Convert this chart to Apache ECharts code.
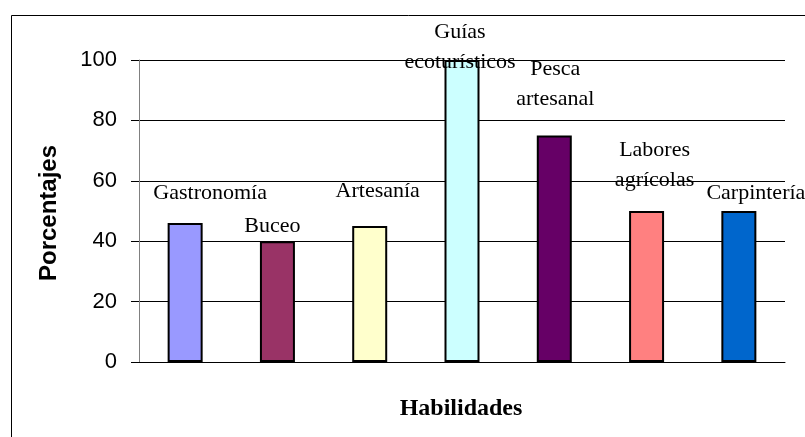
<!DOCTYPE html>
<html>
<head>
<meta charset="utf-8">
<title>Habilidades</title>
<script src="https://cdn.jsdelivr.net/npm/echarts@6/dist/echarts.min.js"></script>
<style>
  html, body { margin: 0; padding: 0; background: #fff; }
  #chart { width: 805px; height: 437px; }
</style>
</head>
<body>
<div id="chart"></div>
<script>
// data
const categories = ["Gastronomía", "Buceo", "Artesanía", "Guías ecoturísticos", "Pesca artesanal", "Labores agrícolas", "Carpintería"];
const porcentajes = [46, 40, 45, 100, 75, 50, 50];
const yTicks = [0, 20, 40, 60, 80, 100];

// excel-like palette, one colour per bar
const barColors = ["#9999FF", "#993366", "#FFFFCC", "#CCFFFF", "#660066", "#FF8080", "#0066CC"];
// hand-moved data labels in the original
const labelShift = [[25, -15], [-5, 0], [8, -20], [-2, 17], [1, -21], [8, -16], [17, -3]];

const chart = echarts.init(document.getElementById("chart"));

chart.setOption({
  animation: false,
  backgroundColor: "#fff",
  grid: { left: 139, top: 60, width: 646, height: 302, containLabel: false },
  xAxis: {
    type: "category",
    data: categories,
    axisLine: { lineStyle: { color: "#000", width: 1 } },
    axisTick: { show: false },
    axisLabel: { show: false },
    splitLine: { show: false },
  },
  yAxis: {
    type: "value",
    min: yTicks[0],
    max: yTicks[yTicks.length - 1],
    interval: 20,
    axisLine: { show: true, lineStyle: { color: "#808080", width: 1 } },
    axisTick: { show: true, length: 8, lineStyle: { color: "#000" } },
    axisLabel: {
      margin: 22,
      color: "#000",
      fontFamily: "Liberation Sans",
      fontSize: 22,
    },
    splitLine: { lineStyle: { color: "#000", width: 1 } },
  },
  series: [
    {
      type: "bar",
      barWidth: 35,
      data: porcentajes.map((v, i) => ({
        value: v,
        itemStyle: { color: barColors[i] },
        label: { offset: labelShift[i] },
      })),
      itemStyle: { borderColor: "#000", borderWidth: 2 },
      label: {
        show: true,
        position: "top",
        distance: 0,
        color: "#000",
        fontFamily: "Liberation Serif",
        fontSize: 22,
        lineHeight: 30,
        formatter: (p) => p.name.replace(" ", "\n"),
      },
    },
  ],
  graphic: [
    {
      type: "rect",
      left: 9,
      top: 13,
      shape: { width: 900, height: 500 },
      style: { fill: "none", stroke: "#000", lineWidth: 1 },
      silent: true,
      z: -1,
    },
    {
      type: "text",
      x: 49,
      y: 213,
      rotation: Math.PI / 2,
      style: {
        text: "Porcentajes",
        fontFamily: "Liberation Sans",
        fontWeight: "bold",
        fontSize: 24,
        fill: "#000",
        align: "center",
        verticalAlign: "middle",
      },
    },
    {
      type: "text",
      x: 461,
      y: 409,
      style: {
        text: "Habilidades",
        fontFamily: "Liberation Serif",
        fontWeight: "bold",
        fontSize: 24,
        fill: "#000",
        align: "center",
        verticalAlign: "middle",
      },
    },
  ],
});
</script>
</body>
</html>
